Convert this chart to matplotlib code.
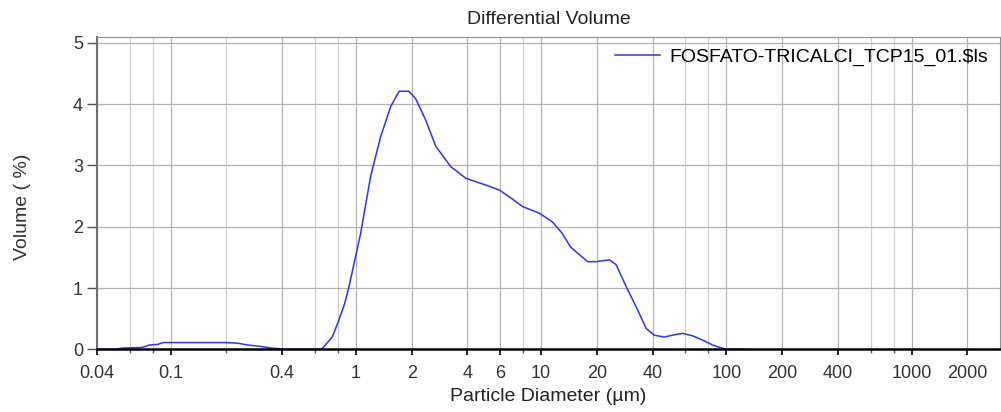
import numpy as np
import matplotlib
matplotlib.use("Agg")
import matplotlib.pyplot as plt
from matplotlib.ticker import FixedLocator, NullFormatter

plt.rcParams["font.family"] = ["Liberation Sans", "DejaVu Sans"]

# particle diameter (um) and differential volume (%)
diameter = [0.04, 0.05, 0.055, 0.07, 0.077, 0.085, 0.091, 0.12, 0.2, 0.23, 0.26, 0.3,
            0.35, 0.42, 0.65, 0.67, 0.745, 0.81, 0.87, 0.917, 1.06, 1.2, 1.36, 1.54,
            1.71, 1.93, 2.1, 2.38, 2.7, 3.25, 3.92, 5.02, 5.94, 7.0, 7.92, 9.77, 11.5,
            13.0, 14.4, 17.8, 19.8, 23.4, 25.4, 28.8, 32.6, 36.9, 40.8, 46.1, 51.1,
            57.9, 65.7, 74.4, 84.2, 95.4, 100, 125]
volume = [0, 0, 0.02, 0.03, 0.07, 0.08, 0.11, 0.11, 0.11, 0.1, 0.07, 0.05,
          0.02, 0.0, 0.0, 0.04, 0.2, 0.48, 0.75, 1.02, 1.89, 2.82, 3.47, 3.96,
          4.21, 4.21, 4.09, 3.74, 3.31, 2.98, 2.79, 2.68, 2.6, 2.45, 2.33, 2.22, 2.08,
          1.89, 1.67, 1.43, 1.43, 1.46, 1.38, 1.02, 0.69, 0.34, 0.23, 0.2, 0.23,
          0.26, 0.22, 0.15, 0.07, 0.016, 0, 0]
series_name = "FOSFATO-TRICALCI_TCP15_01.$ls"

major_ticks = [0.04, 0.1, 0.4, 1, 2, 4, 6, 10, 20, 40, 100, 200, 400, 1000, 2000]
major_labels = ["0.04", "0.1", "0.4", "1", "2", "4", "6", "10", "20", "40",
                "100", "200", "400", "1000", "2000"]
minor_ticks = [0.06, 0.08, 0.2, 0.6, 0.8, 8, 60, 80, 600, 800]

fig = plt.figure(figsize=(10.01, 4.12), dpi=100)
ax = fig.add_axes([97 / 1001, (412 - 349.3) / 412, 903 / 1001, 312.6 / 412])

ax.plot(diameter, volume, color="#3030ff", lw=1.1, label=series_name)
ax.set_xscale("log")
ax.set_xlim(0.04, 3000)
ax.set_ylim(0, 5.1)

ax.xaxis.set_major_locator(FixedLocator(major_ticks))
ax.set_xticklabels(major_labels)
ax.xaxis.set_minor_locator(FixedLocator(minor_ticks))
ax.xaxis.set_minor_formatter(NullFormatter())
ax.set_yticks([0, 1, 2, 3, 4, 5])

ax.grid(which="major", color="#b4b4b4", lw=0.9)
ax.grid(which="minor", axis="x", color="#cfcfcf", lw=0.9)
ax.set_axisbelow(True)

ax.tick_params(axis="x", which="major", length=4, width=1.2, pad=7, labelsize=13, labelcolor="#333333")
ax.tick_params(axis="x", which="minor", length=3, width=1, color="#555555")
ax.tick_params(axis="y", length=7, width=1, pad=3, labelsize=13, labelcolor="#333333", color="#555555")

for side in ["top", "right"]:
    ax.spines[side].set_color("#909090")
ax.spines["left"].set_color("#707070")
ax.spines["left"].set_linewidth(1.5)
ax.spines["bottom"].set_color("black")
ax.spines["bottom"].set_linewidth(1.8)

ax.set_title("Differential Volume", fontsize=14, pad=9, color="#222222")
ax.set_xlabel("Particle Diameter (µm)", fontsize=14, color="#222222")
ax.xaxis.set_label_coords(0.5, -0.125)
ax.set_ylabel("Volume ( %)", fontsize=14, color="#333333")
ax.yaxis.set_label_coords(-0.073, 0.455)

ax.legend(loc="upper right", bbox_to_anchor=(1.0, 1.0), frameon=False, fontsize=14,
          handlelength=2.3, handletextpad=0.5, borderaxespad=0.2)

plt.savefig("out.png", dpi=100)
